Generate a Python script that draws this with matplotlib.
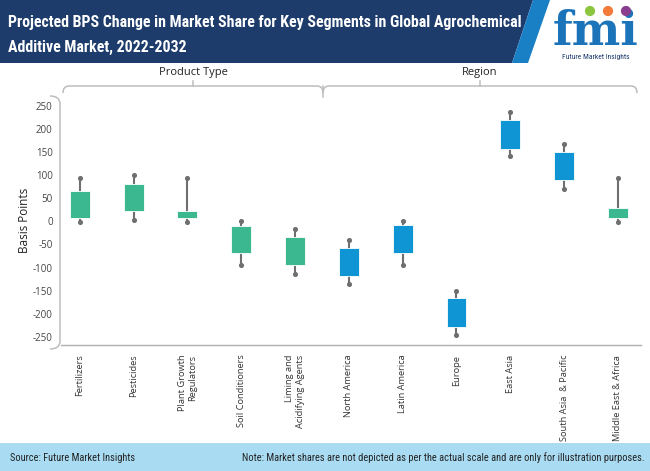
import matplotlib
matplotlib.use("Agg")
import matplotlib.pyplot as plt
from matplotlib.path import Path
from matplotlib.patches import PathPatch, Polygon, Rectangle
import numpy as np

categories = ["Fertilizers", "Pesticides", "Plant Growth\nRegulators", "Soil Conditioners",
              "Liming and\nAcidifying Agents", "North America", "Latin America", "Europe",
              "East Asia", "South Asia  & Pacific", "Middle East & Africa"]
whisker_low = [-2, 4, -2, -95, -113, -136, -95, -246, 141, 71, -2]
box_low = [7, 22, 7, -69, -95, -119, -69, -229, 158, 89, 7]
box_high = [67, 82, 22, -9, -34, -57, -8, -167, 219, 150, 29]
whisker_high = [94, 100, 94, 1, -16, -40, 1, -150, 237, 168, 95]
segment = ["Product Type"] * 5 + ["Region"] * 6
box_colors = ["#3bb88f"] * 5 + ["#0f95d4"] * 5 + ["#3bb88f"]
yticks = [250, 200, 150, 100, 50, 0, -50, -100, -150, -200, -250]

NARROW = ["Roboto Condensed", "Liberation Sans Narrow", "Roboto"]

W, H = 650, 471
fig = plt.figure(figsize=(W / 100, H / 100), dpi=100)
fig.patch.set_facecolor("white")

ax_l, ax_r, ax_t, ax_b = 61, 641, 96, 345
ax = fig.add_axes([ax_l / W, 1 - ax_b / H, (ax_r - ax_l) / W, (ax_b - ax_t) / H])
x = np.arange(len(categories))
ax.vlines(x, whisker_low, whisker_high, color="#6f6f6f", lw=1.5, zorder=1)
ax.scatter(x, whisker_low, s=7, color="#6f6f6f", zorder=1)
ax.scatter(x, whisker_high, s=7, color="#6f6f6f", zorder=1)
heights = np.array(box_high) - np.array(box_low)
ax.bar(x, heights, bottom=box_low, width=0.37, color=box_colors, edgecolor="white",
       linewidth=0.6, zorder=2)
ax.set_xlim(-0.35, 10.43)
ax.set_ylim(-268, 272)
ax.set_yticks(yticks)
ax.set_yticklabels([str(v) for v in yticks], fontsize=7, color="#444444", family="Open Sans")
ax.set_xticks(x)
ax.set_xticklabels(categories, rotation=90, fontsize=6.7, color="#333333", family="Open Sans",
                   va="top", ha="center", multialignment="right")
ax.tick_params(length=0, pad=6)
ax.tick_params(axis="x", pad=7)
for s in ["top", "right", "left"]:
    ax.spines[s].set_visible(False)
ax.spines["bottom"].set_color("#b0b0b0")
ax.spines["bottom"].set_linewidth(1)
ax.set_ylabel("Basis Points", fontsize=8.5, color="#222222", family="Open Sans", labelpad=1)

# overlay in pixel coordinates
ov = fig.add_axes([0, 0, 1, 1], zorder=5)
ov.set_xlim(0, W)
ov.set_ylim(H, 0)
ov.axis("off")
ov.patch.set_alpha(0)

# banner
ov.add_patch(Polygon([(0, 0), (533, 0), (512, 63), (0, 63)], closed=True, color="#1d3c6b", lw=0))
ov.add_patch(Polygon([(533, 0), (550, 0), (528, 63), (512, 63)], closed=True, color="#1a80c6", lw=0))
ov.text(8, 23, "Projected BPS Change in Market Share for Key Segments in Global Agrochemical",
        color="white", fontsize=11.4, fontweight="bold",
        family=NARROW, va="center", ha="left")
ov.text(8, 47, "Additive Market, 2022-2032", color="white", fontsize=11.4, fontweight="bold",
        family=NARROW, va="center", ha="left")

# logo
ov.text(596, 45, "fmi", color="#1b73b9", fontsize=33, fontweight="bold", family="DejaVu Serif",
        ha="center", va="baseline")
for yy in [22, 28, 34, 40]:
    ov.plot([550, 645], [yy, yy], color="white", lw=0.8)
ov.scatter([590, 608, 626], [11, 11, 11], s=[40, 40, 40], color=["#8cc63f", "#f47a3a", "#8a3c8f"], zorder=6)
ov.text(596, 57, "Future Market Insights", color="#1d3c6b", fontsize=5.5, family=NARROW,
        ha="center", va="center")

# footer
ov.add_patch(Rectangle((0, 443), W, H - 443, color="#a9dcf3", lw=0))
ov.text(10, 458, "Source: Future Market Insights", fontsize=7.5, color="#222222",
        family=NARROW, va="center")
ov.text(645, 458, "Note: Market shares are not depicted as per the actual scale and are only for illustration purposes.",
        fontsize=7.5, color="#222222", family=NARROW, va="center", ha="right")

# brackets
bc = "#bdbdbd"
def draw_path(verts, codes):
    ov.add_patch(PathPatch(Path(verts, codes), fill=False, edgecolor=bc, lw=1.1))

M, L, C = Path.MOVETO, Path.LINETO, Path.CURVE3
# y axis bracket
draw_path([(50, 96), (60, 96), (60, 104), (60, 341), (60, 349), (50, 349)],
          [M, C, C, L, C, C])
# group brackets
groups = [("Product Type", 63, 323), ("Region", 323, 637)]
for name, x0, x1 in groups:
    draw_path([(x0, 93), (x0, 86), (x0 + 6, 86), (x1 - 6, 86), (x1, 86), (x1, 93)],
              [M, C, C, L, C, C])
    xm = (x0 + x1) / 2
    ov.plot([xm, xm], [86, 81], color=bc, lw=1.1)
    ov.text(xm, 72, name, fontsize=8, color="#222222", family="Open Sans", ha="center", va="center")
ov.plot([323, 323], [86, 97], color=bc, lw=1.1)

fig.savefig("out.png", dpi=100)
